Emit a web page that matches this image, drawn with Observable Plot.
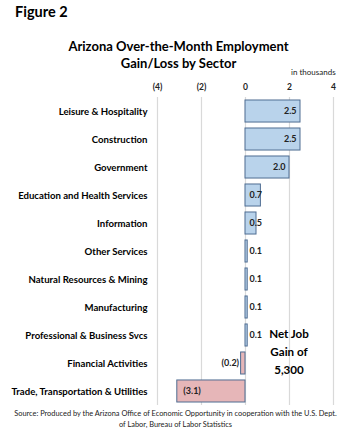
<!DOCTYPE html>
<html>
<head>
<meta charset="utf-8">
<script src="https://cdn.jsdelivr.net/npm/d3@7"></script>
<script src="https://cdn.jsdelivr.net/npm/@observablehq/plot@0.6"></script>
<style>
  html, body { margin: 0; padding: 0; background: #fff; overflow: hidden; }
  #wrap { position: relative; width: 351px; height: 435px; font-family: Lato, "Open Sans", sans-serif; color: #000; overflow: hidden; }
  #wrap svg { position: absolute; left: 0; top: 0; max-width: none; }
  .abs { position: absolute; white-space: nowrap; }
  #fig { left: 15px; top: 3px; font-size: 14.5px; font-weight: 700; }
  #title { left: 0; width: 357px; top: 38px; text-align: center; font-size: 13px; font-weight: 700; line-height: 17px; }
  #units { left: 291px; top: 67px; font-size: 8px; color: #222; }
  #net { left: 259px; width: 60px; top: 325px; text-align: center; font-size: 11.6px; font-weight: 700; line-height: 18px; }
  #src { left: 0; width: 351px; top: 409px; text-align: center; font-size: 7.4px; line-height: 10.5px; color: #222; }
</style>
</head>
<body>
<div id="wrap">
  <div class="abs" id="fig">Figure 2</div>
  <div class="abs" id="title">Arizona Over-the-Month Employment<br>Gain/Loss by Sector</div>
  <div class="abs" id="units">in thousands</div>
  <div class="abs" id="net">Net Job<br>Gain of<br>5,300</div>
  <div class="abs" id="src">Source: Produced by the Arizona Office of Economic Opportunity in cooperation with the U.S. Dept.<br>of Labor, Bureau of Labor Statistics</div>
</div>
<script>
const sectors = [
  "Leisure & Hospitality",
  "Construction",
  "Government",
  "Education and Health Services",
  "Information",
  "Other Services",
  "Natural Resources & Mining",
  "Manufacturing",
  "Professional & Business Svcs",
  "Financial Activities",
  "Trade, Transportation & Utilities"
];
const values = [2.5, 2.5, 2.0, 0.7, 0.5, 0.1, 0.1, 0.1, 0.1, -0.2, -3.1];
const xTicks = [-4, -2, 0, 2, 4];
const xTickLabels = ["(4)", "(2)", "0", "2", "4"];

const data = sectors.map((s, i) => ({sector: s, value: values[i]}));
const fmt = v => v < 0 ? `(${(-v).toFixed(1)})` : v.toFixed(1);
const tickFmt = t => xTickLabels[xTicks.indexOf(t)];

const labelStyle = {fontSize: 9, fontWeight: 700, fill: "#222", fontFamily: "Lato, sans-serif"};

const chart = Plot.plot({
  width: 351,
  height: 435,
  marginTop: 97,
  marginBottom: 30,
  marginLeft: 157,
  marginRight: 18,
  style: {fontFamily: "Lato, sans-serif", background: "transparent", overflow: "visible"},
  x: {domain: [-4, 4], ticks: xTicks, label: null},
  y: {domain: sectors, paddingInner: 0.213, paddingOuter: 0.107, round: false, label: null},
  marks: [
    Plot.gridX(xTicks, {stroke: "#d9d9d9", strokeOpacity: 1, strokeWidth: 1.2}),
    Plot.axisX({anchor: "top", ticks: xTicks, tickFormat: tickFmt, tickSize: 0, tickPadding: 8, fontSize: 8.5, fontWeight: 700, fill: "#222", label: null}),
    Plot.axisY({tickSize: 0, tickPadding: 10, fontSize: 9.6, fontWeight: 700, fill: "#000", label: null}),
    Plot.barX(data, {
      x1: 0, x2: "value", y: "sector",
      fill: d => d.value >= 0 ? "#b9d3eb" : "#e6b6b8",
      stroke: "#4f6d92", strokeWidth: 1
    }),
    Plot.text(data.filter(d => d.value >= 1), {x: "value", y: "sector", text: d => fmt(d.value), textAnchor: "end", dx: -4, ...labelStyle}),
    Plot.text(data.filter(d => d.value >= 0 && d.value < 1), {x: 0, y: "sector", text: d => fmt(d.value), textAnchor: "start", dx: 4, ...labelStyle}),
    Plot.text(data.filter(d => d.value < 0 && d.value > -1), {x: "value", y: "sector", text: d => fmt(d.value), textAnchor: "end", dx: -2, ...labelStyle}),
    Plot.text(data.filter(d => d.value <= -1), {x: "value", y: "sector", text: d => fmt(d.value), textAnchor: "start", dx: 6, ...labelStyle})
  ]
});
chart.style.width = "351px";
chart.style.height = "435px";
document.getElementById("wrap").prepend(chart);
</script>
</body>
</html>
